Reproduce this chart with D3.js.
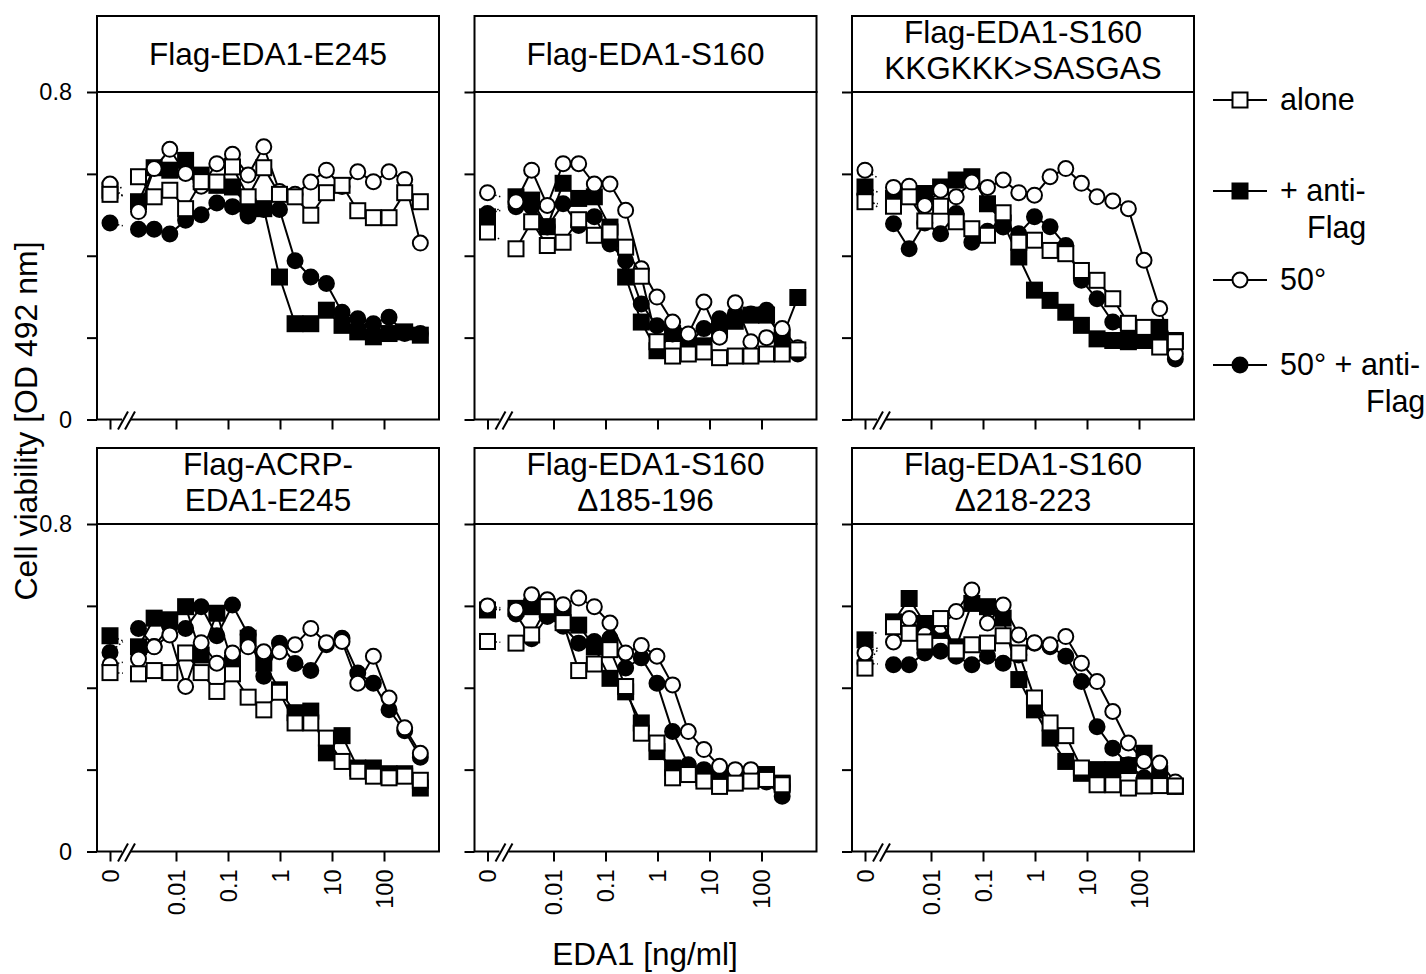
<!DOCTYPE html>
<html lang="en">
<head>
<meta charset="UTF-8">
<script src="https://cdn.jsdelivr.net/npm/d3@7/dist/d3.min.js"></script>
<title>EDA1 cell viability</title>
<style>
    body, html{
        margin: 0;
        padding: 0;
        background: #fff;
    }
    svg text{
        font-family: "Liberation Sans", Arial, Helvetica, sans-serif;
        fill: #000;
    }
</style>
</head>
<body>
<div id="chart"></div>
<script>

// EDA1 concentrations [ng/ml], first entry = no ligand
const conc_500 = [0, 0.0019, 0.0038, 0.0076, 0.0153, 0.0305, 0.061, 0.122, 0.244, 0.488, 0.977, 1.95, 3.91, 7.81, 15.6, 31.3, 62.5, 125, 250, 500]
const conc_250 = [0, 0.0019, 0.0038, 0.0076, 0.0153, 0.0305, 0.061, 0.122, 0.244, 0.488, 0.977, 1.95, 3.91, 7.81, 15.6, 31.3, 62.5, 125, 250]

// OD 492 nm, per panel: alone / + anti-Flag / 50° / 50° + anti-Flag
const e245_alone    = [0.55, 0.593, 0.544, 0.56, 0.515, 0.581, 0.58, 0.617, 0.544, 0.615, 0.55, 0.544, 0.499, 0.554, 0.572, 0.51, 0.493, 0.493, 0.554, 0.532]
const e245_anti     = [0.56, 0.532, 0.615, 0.609, 0.633, 0.597, 0.572, 0.568, 0.519, 0.515, 0.348, 0.234, 0.234, 0.267, 0.23, 0.214, 0.202, 0.21, 0.214, 0.206]
const e245_hot      = [0.575, 0.508, 0.613, 0.66, 0.601, 0.57, 0.625, 0.648, 0.597, 0.666, 0.557, 0.55, 0.58, 0.609, 0.569, 0.605, 0.581, 0.605, 0.586, 0.431]
const e245_hot_anti = [0.48, 0.465, 0.465, 0.453, 0.487, 0.50, 0.529, 0.52, 0.497, 0.513, 0.513, 0.388, 0.348, 0.332, 0.262, 0.246, 0.234, 0.25, 0.21, 0.21]

const s160_alone    = [0.458, 0.417, 0.483, 0.425, 0.433, 0.488, 0.45, 0.458, 0.421, 0.35, 0.19, 0.155, 0.16, 0.165, 0.151, 0.155, 0.155, 0.16, 0.16, 0.17]
const s160_anti     = [0.495, 0.544, 0.536, 0.471, 0.577, 0.54, 0.544, 0.47, 0.348, 0.238, 0.168, 0.21, 0.185, 0.18, 0.22, 0.24, 0.255, 0.255, 0.2, 0.298]
const s160_hot      = [0.554, 0.532, 0.609, 0.523, 0.625, 0.625, 0.575, 0.575, 0.511, 0.368, 0.299, 0.238, 0.209, 0.287, 0.201, 0.285, 0.19, 0.2, 0.222, 0.175]
const s160_hot_anti = [0.503, 0.52, 0.52, 0.47, 0.527, 0.474, 0.495, 0.429, 0.388, 0.282, 0.229, 0.209, 0.185, 0.222, 0.246, 0.258, 0.258, 0.267, 0.19, 0.16]

const kk_alone      = [0.532, 0.521, 0.544, 0.485, 0.521, 0.483, 0.466, 0.45, 0.505, 0.433, 0.438, 0.413, 0.405, 0.364, 0.34, 0.295, 0.235, 0.225, 0.177, 0.19]
const kk_anti       = [0.568, 0.54, 0.55, 0.552, 0.568, 0.585, 0.593, 0.527, 0.48, 0.397, 0.316, 0.291, 0.262, 0.23, 0.197, 0.193, 0.19, 0.193, 0.225, 0.193]
const kk_hot        = [0.609, 0.567, 0.57, 0.523, 0.56, 0.544, 0.58, 0.567, 0.585, 0.554, 0.548, 0.593, 0.613, 0.577, 0.544, 0.534, 0.515, 0.389, 0.271, 0.16]
const kk_hot_anti   = [0.55, 0.478, 0.417, 0.48, 0.454, 0.503, 0.433, 0.46, 0.47, 0.454, 0.495, 0.471, 0.425, 0.34, 0.295, 0.238, 0.21, 0.2, 0.2, 0.148]

const acrp_alone    = [0.437, 0.434, 0.442, 0.437, 0.485, 0.437, 0.391, 0.434, 0.377, 0.346, 0.389, 0.314, 0.314, 0.277, 0.22, 0.196, 0.184, 0.18, 0.184, 0.174]
const acrp_anti     = [0.527, 0.5, 0.57, 0.566, 0.598, 0.48, 0.582, 0.46, 0.521, 0.46, 0.395, 0.339, 0.343, 0.241, 0.283, 0.204, 0.204, 0.19, 0.19, 0.155]
const acrp_hot      = [0.456, 0.47, 0.5, 0.529, 0.403, 0.51, 0.46, 0.485, 0.5, 0.488, 0.488, 0.505, 0.545, 0.51, 0.513, 0.411, 0.477, 0.375, 0.302, 0.24]
const acrp_hot_anti = [0.486, 0.545, 0.501, 0.55, 0.545, 0.598, 0.527, 0.602, 0.53, 0.428, 0.509, 0.459, 0.442, 0.505, 0.521, 0.436, 0.411, 0.346, 0.295, 0.23]

const d185_alone    = [0.513, 0.509, 0.529, 0.598, 0.559, 0.442, 0.458, 0.493, 0.403, 0.289, 0.265, 0.18, 0.188, 0.172, 0.159, 0.167, 0.172, 0.176, 0.163]
const d185_anti     = [0.59, 0.594, 0.598, 0.59, 0.582, 0.553, 0.5, 0.423, 0.39, 0.314, 0.244, 0.204, 0.19, 0.18, 0.18, 0.18, 0.18, 0.188, 0.167]
const d185_hot      = [0.6, 0.59, 0.627, 0.615, 0.603, 0.619, 0.598, 0.558, 0.485, 0.503, 0.477, 0.407, 0.293, 0.249, 0.208, 0.2, 0.2, 0.172, 0.16]
const d185_hot_anti = [0.598, 0.58, 0.52, 0.574, 0.55, 0.509, 0.513, 0.521, 0.448, 0.473, 0.411, 0.293, 0.212, 0.2, 0.19, 0.19, 0.18, 0.17, 0.135]

const d218_alone    = [0.448, 0.549, 0.533, 0.512, 0.569, 0.49, 0.505, 0.509, 0.527, 0.485, 0.375, 0.314, 0.283, 0.204, 0.163, 0.163, 0.155, 0.16, 0.161, 0.16]
const d218_anti     = [0.517, 0.561, 0.618, 0.557, 0.54, 0.5, 0.606, 0.598, 0.57, 0.42, 0.346, 0.277, 0.22, 0.191, 0.2, 0.2, 0.21, 0.24, 0.19, 0.159]
const d218_hot      = [0.485, 0.512, 0.569, 0.53, 0.55, 0.586, 0.639, 0.558, 0.602, 0.529, 0.51, 0.505, 0.525, 0.46, 0.415, 0.342, 0.265, 0.22, 0.216, 0.17]
const d218_hot_anti = [0.46, 0.456, 0.456, 0.485, 0.489, 0.477, 0.456, 0.477, 0.46, 0.48, 0.509, 0.5, 0.477, 0.415, 0.305, 0.252, 0.212, 0.18, 0.19, 0.16]

const panel_titles = [
    ["Flag-EDA1-E245"],
    ["Flag-EDA1-S160"],
    ["Flag-EDA1-S160", "KKGKKK>SASGAS"],
    ["Flag-ACRP-", "EDA1-E245"],
    ["Flag-EDA1-S160", "\u0394185-196"],
    ["Flag-EDA1-S160", "\u0394218-223"],
]
const series_names = [["alone"], ["+ anti-", "Flag"], ["50°"], ["50° + anti-", "Flag"]]

const x_ticks = [0, 0.01, 0.1, 1, 10, 100]
const x_tick_labels = ["0", "0.01", "0.1", "1", "10", "100"]
const y_ticks = [0, 0.2, 0.4, 0.6, 0.8]

// series style: shape, fill
const SERIES_STYLE = [
    {shape: "square", fill: "#fff"},
    {shape: "square", fill: "#000"},
    {shape: "circle", fill: "#fff"},
    {shape: "circle", fill: "#000"},
]

const panels = [
    {title: panel_titles[0], conc: conc_500, series: [e245_alone, e245_anti, e245_hot, e245_hot_anti]},
    {title: panel_titles[1], conc: conc_500, series: [s160_alone, s160_anti, s160_hot, s160_hot_anti]},
    {title: panel_titles[2], conc: conc_500, series: [kk_alone, kk_anti, kk_hot, kk_hot_anti]},
    {title: panel_titles[3], conc: conc_500, series: [acrp_alone, acrp_anti, acrp_hot, acrp_hot_anti]},
    {title: panel_titles[4], conc: conc_250, series: [d185_alone, d185_anti, d185_hot, d185_hot_anti]},
    {title: panel_titles[5], conc: conc_500, series: [d218_alone, d218_anti, d218_hot, d218_hot_anti]},
]

// layout
const W = 1426, H = 974
const col_left = [97, 474.5, 852]
const row_plot_top = [92, 524]
const panel_w = 342
const plot_h = 327.5
const header_h = 76
const zero_x = 13
const sq = 15, rad = 7.5

const svg = d3.select("#chart").append("svg").attr("width", W).attr("height", H)

const xLog = d3.scaleLog().domain([0.01, 1000]).range([79, 339])
const xPos = c => c === 0 ? zero_x : xLog(c)
const y = d3.scaleLinear().domain([0, 0.8]).range([plot_h, 0])

const xTickScale = d3.scaleOrdinal().domain(x_ticks).range(x_ticks.map(xPos))

const drawMarker = (g, shape, fill, cx, cy) => {
    if(shape === "square"){
        g.append("rect").attr("x", cx - sq/2).attr("y", cy - sq/2).attr("width", sq).attr("height", sq)
            .attr("fill", fill).attr("stroke", "#000").attr("stroke-width", 2)
    }else{
        g.append("circle").attr("cx", cx).attr("cy", cy).attr("r", rad)
            .attr("fill", fill).attr("stroke", "#000").attr("stroke-width", 2)
    }
}

panels.forEach((p, i) => {
    let col = i % 3, row = Math.floor(i / 3)
    let g = svg.append("g").attr("transform", `translate(${col_left[col]},${row_plot_top[row]})`)

    // header box + title
    g.append("rect").attr("x", 0).attr("y", -header_h).attr("width", panel_w).attr("height", header_h)
        .attr("fill", "none").attr("stroke", "#000").attr("stroke-width", 2)
    let t = g.append("text").attr("x", panel_w / 2).attr("text-anchor", "middle").attr("font-size", 31.5)
    if(p.title.length === 1){
        t.attr("y", -27).text(p.title[0])
    }else{
        t.append("tspan").attr("x", panel_w / 2).attr("y", -49).text(p.title[0])
        t.append("tspan").attr("x", panel_w / 2).attr("y", -13).text(p.title[1])
    }

    // y axis
    let ya = g.append("g").call(d3.axisLeft(y).tickValues(y_ticks).tickSize(10).tickPadding(15)
        .tickFormat(d => col === 0 && (d === 0 || d === 0.8) ? d3.format("")(d) : ""))
    ya.select(".domain").remove()
    ya.selectAll("line").attr("stroke-width", 2)
    ya.selectAll("text").attr("font-size", 23.5).attr("font-family", null)

    // x axis
    let xa = g.append("g").attr("transform", `translate(0,${plot_h})`)
        .call(d3.axisBottom(xTickScale).tickSize(10).tickFormat((d, k) => row === 1 ? x_tick_labels[k] : ""))
    xa.select(".domain").remove()
    xa.selectAll("line").attr("stroke-width", 2)
    xa.selectAll("text").attr("font-size", 23.5).attr("font-family", null)
        .attr("transform", "rotate(-90)").attr("x", -18).attr("y", 0).attr("dy", "0.35em")
        .style("text-anchor", "end")

    // frame
    g.append("rect").attr("x", 0).attr("y", 0).attr("width", panel_w).attr("height", plot_h)
        .attr("fill", "none").attr("stroke", "#000").attr("stroke-width", 2)

    // axis break //
    g.append("rect").attr("x", 25).attr("y", plot_h - 3).attr("width", 9).attr("height", 6).attr("fill", "#fff")
    g.append("line").attr("x1", 21).attr("y1", plot_h + 10).attr("x2", 31).attr("y2", plot_h - 8)
        .attr("stroke", "#000").attr("stroke-width", 2)
    g.append("line").attr("x1", 28).attr("y1", plot_h + 10).attr("x2", 38).attr("y2", plot_h - 8)
        .attr("stroke", "#000").attr("stroke-width", 2)

    // series, drawn back to front
    const order = [3, 1, 2, 0]
    order.forEach(s => {
        let vals = p.series[s]
        let st = SERIES_STYLE[s]
        let pts = vals.map((v, k) => [xPos(p.conc[k]), y(v)])
        let sg = g.append("g")
        // dotted link from the no-ligand point
        let x0 = pts[0][0], y0 = pts[0][1]
        let xe = x0 + (pts[1][0] - x0) * 0.45, ye = y0 + (pts[1][1] - y0) * 0.45
        sg.append("line").attr("x1", x0).attr("y1", y0).attr("x2", xe).attr("y2", ye)
            .attr("stroke", "#000").attr("stroke-width", 1.5).attr("stroke-dasharray", "1.5,2.5")
        sg.append("path").attr("d", d3.line()(pts.slice(1)))
            .attr("fill", "none").attr("stroke", "#000").attr("stroke-width", 2)
        pts.forEach(pt => drawMarker(sg, st.shape, st.fill, pt[0], pt[1]))
    })
})

// axis titles
svg.append("text").attr("transform", "translate(37,421) rotate(-90)").attr("text-anchor", "middle")
    .attr("font-size", 32).text("Cell viability [OD 492 nm]")
svg.append("text").attr("x", 645).attr("y", 965).attr("text-anchor", "middle")
    .attr("font-size", 31.5).text("EDA1 [ng/ml]")

// legend
const legend_y = [100, 191, 280, 365]
const legend_wrap_x = [0, 27, 0, 86]
series_names.forEach((name, s) => {
    let lg = svg.append("g").attr("transform", `translate(1240,${legend_y[s]})`)
    lg.append("line").attr("x1", -27).attr("x2", 27).attr("y1", 0).attr("y2", 0)
        .attr("stroke", "#000").attr("stroke-width", 2)
    drawMarker(lg, SERIES_STYLE[s].shape, SERIES_STYLE[s].fill, 0, 0)
    let t = lg.append("text").attr("font-size", 30.5).attr("y", 10)
    t.append("tspan").attr("x", 40).text(name[0])
    if(name.length > 1) t.append("tspan").attr("x", 40 + legend_wrap_x[s]).attr("dy", 37).text(name[1])
})

</script>
</body>
</html>
